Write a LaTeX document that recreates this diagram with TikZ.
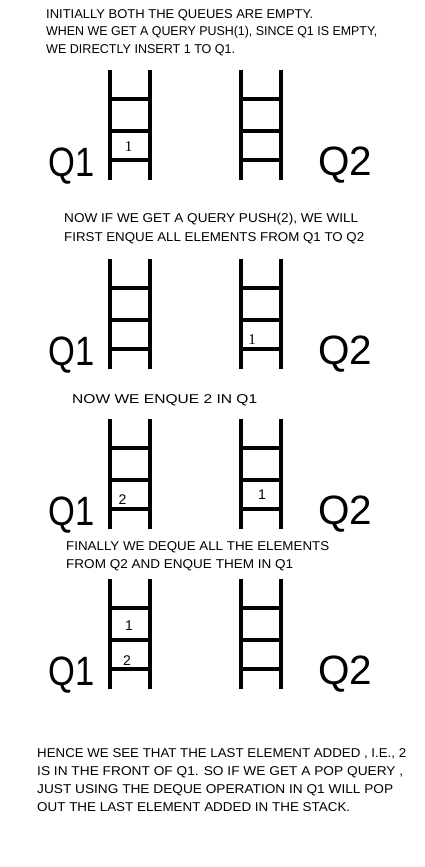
\documentclass[tikz,border=0pt]{standalone}
\usepackage{graphicx}
\usepackage{fontspec}
\setmainfont{Liberation Sans}
\newfontfamily\serifnum{Liberation Serif}
\newcommand\fitline[2]{\resizebox{#1}{\height}{#2}}
\begin{document}
\begin{tikzpicture}[x=1pt,y=1pt,
  txt/.style={anchor=base west,inner sep=0pt,font=\fontsize{12.8}{15}\selectfont},
  qlab/.style={anchor=base west,inner sep=0pt,font=\fontsize{41}{44}\selectfont},
  snum/.style={inner sep=0pt,font=\fontsize{14}{16}\selectfont},
  rnum/.style={inner sep=0pt,font=\fontsize{15}{17}\selectfont\serifnum},
  rail/.style={line width=3.8pt},
  rung/.style={line width=3.2pt},
  ladder/.pic={
    \draw[rail] (0,0) -- (0,-110);
    \draw[rail] (40,0) -- (40,-110);
    \draw[rung] (-2,-29) -- (40,-29);
    \draw[rung] (-2,-61) -- (40,-61);
    \draw[rung] (-2,-90) -- (40,-90);
  }]
\useasboundingbox[fill=white] (0,0) rectangle (424,-867);

% Panel 1
\node[txt] (p1a) at (46,-19) {\fitline{267pt}{INITIALLY BOTH THE QUEUES ARE EMPTY.}};
\node[txt] (p1b) at (46,-36) {\fitline{331pt}{WHEN WE GET A QUERY PUSH(1), SINCE Q1 IS EMPTY,}};
\node[txt] (p1c) at (46,-53) {\fitline{189pt}{WE DIRECTLY INSERT 1 TO Q1.}};
\pic at (110,-70) {ladder};
\pic at (241,-70) {ladder};
\node[qlab] (p1q1) at (48,-176) {\fitline{46pt}{Q1}};
\node[qlab] (p1q2) at (318,-175) {\fitline{54pt}{Q2}};
\node[rnum] (p1n1) at (128.5,-146.5) {1};

% Panel 2
\node[txt] (p2a) at (64,-222.5) {\fitline{294pt}{NOW IF WE GET A QUERY PUSH(2), WE WILL}};
\node[txt] (p2b) at (64,-241) {\fitline{300pt}{FIRST ENQUE ALL ELEMENTS FROM Q1 TO Q2}};
\pic at (110,-259) {ladder};
\pic at (241,-259) {ladder};
\node[qlab] (p2q1) at (48,-365) {\fitline{46pt}{Q1}};
\node[qlab] (p2q2) at (318,-364) {\fitline{54pt}{Q2}};
\node[rnum] (p2n1) at (252,-340) {1};

% Panel 3
\node[txt] (p3a) at (72,-403) {\fitline{185pt}{NOW WE ENQUE 2 IN Q1}};
\pic at (110,-419) {ladder};
\pic at (241,-419) {ladder};
\node[qlab] (p3q1) at (48,-525) {\fitline{46pt}{Q1}};
\node[qlab] (p3q2) at (318,-524) {\fitline{54pt}{Q2}};
\node[snum] (p3n2) at (122.5,-500) {2};
\node[snum] (p3n1) at (262,-494.5) {1};

% Panel 4
\node[txt] (p4a) at (66,-550.5) {\fitline{263pt}{FINALLY WE DEQUE ALL THE ELEMENTS}};
\node[txt] (p4b) at (66,-568) {\fitline{227pt}{FROM Q2 AND ENQUE THEM IN Q1}};
\pic at (110,-579) {ladder};
\pic at (241,-579) {ladder};
\node[qlab] (p4q1) at (48,-685) {\fitline{46pt}{Q1}};
\node[qlab] (p4q2) at (318,-684) {\fitline{54pt}{Q2}};
\node[snum] (p4n1) at (129,-626) {1};
\node[snum] (p4n2) at (127,-661) {2};

% Conclusion
\node[txt] (c1) at (37,-757) {\fitline{369pt}{HENCE WE SEE THAT THE LAST ELEMENT ADDED , I.E., 2}};
\node[txt] (c2) at (37,-775) {\fitline{366pt}{IS IN THE FRONT OF Q1. SO IF WE GET A POP QUERY ,}};
\node[txt] (c3) at (37,-793) {\fitline{356pt}{JUST USING THE DEQUE OPERATION IN Q1 WILL POP}};
\node[txt] (c4) at (37,-811) {\fitline{313pt}{OUT THE LAST ELEMENT ADDED IN THE STACK.}};
\end{tikzpicture}
\end{document}
